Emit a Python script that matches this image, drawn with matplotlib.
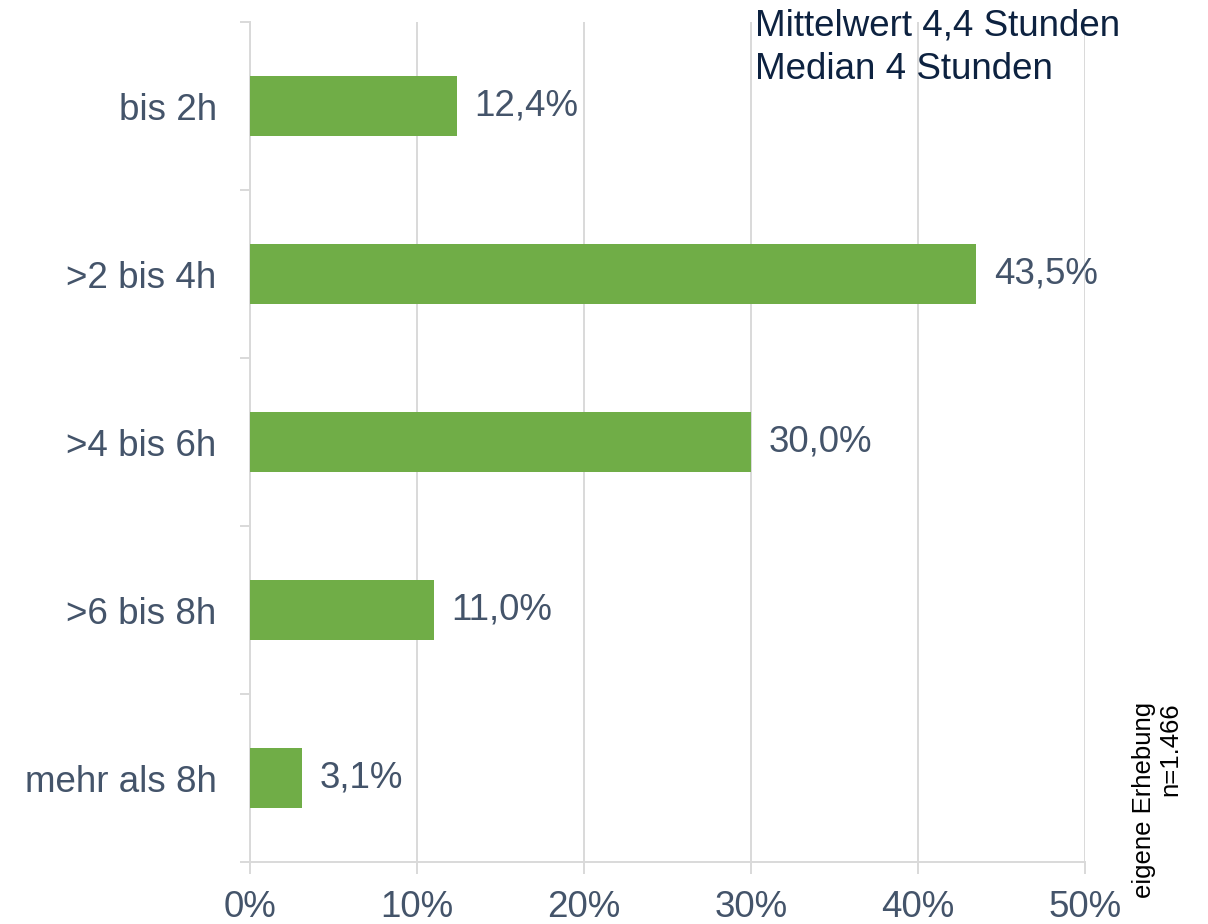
import matplotlib
matplotlib.use("Agg")
import matplotlib.pyplot as plt
from matplotlib.ticker import FixedLocator
import numpy as np

categories = ["bis 2h", ">2 bis 4h", ">4 bis 6h", ">6 bis 8h", "mehr als 8h"]
values = [12.4, 43.5, 30.0, 11.0, 3.1]
value_labels = ["12,4%", "43,5%", "30,0%", "11,0%", "3,1%"]
x_ticks = [0, 10, 20, 30, 40, 50]
x_ticklabels = ["0%", "10%", "20%", "30%", "40%", "50%"]
annotation = "Mittelwert 4,4 Stunden\nMedian 4 Stunden"
source = "eigene Erhebung\nn=1.466"

plt.rcParams['font.family'] = ['Liberation Sans', 'DejaVu Sans']

BAR = "#70AD47"
LABEL = "#44546A"
GRID = "#D9D9D9"
NAVY = "#0D2240"

fig = plt.figure(figsize=(12.08, 9.24), dpi=100)
ax = fig.add_axes([250/1208, 1-862/924, 835/1208, 840/924])

y = np.arange(len(categories))
ax.barh(y, values, height=0.355, color=BAR, zorder=3)
for yi, v, lab in zip(y, values, value_labels):
    ax.text(v + 1.05, yi, lab, va='center', ha='left', fontsize=26.5, color=LABEL)

ax.set_xlim(0, 50)
ax.set_ylim(len(categories) - 0.5, -0.5)
ax.set_xticks(x_ticks)
ax.set_xticklabels(x_ticklabels, fontsize=26.5, color=LABEL)
ax.set_yticks(y)
ax.set_yticklabels(categories, fontsize=26.5, color=LABEL)
ax.yaxis.set_minor_locator(FixedLocator(np.arange(-0.5, len(categories), 1.0)))

ax.tick_params(axis='y', which='major', length=0, pad=24)
ax.tick_params(axis='y', which='minor', length=7.5, width=1.4, color=GRID)
ax.tick_params(axis='x', which='major', length=8.5, width=1.4, color=GRID, pad=12)

ax.grid(axis='x', color=GRID, linewidth=1.4, zorder=0)
for s in ['top', 'right']:
    ax.spines[s].set_visible(False)
for s in ['left', 'bottom']:
    ax.spines[s].set_color(GRID)
    ax.spines[s].set_linewidth(1.4)

fig.text(755/1208, 1-8/924, annotation, ha='left', va='top', fontsize=26.5,
         color=NAVY, linespacing=1.35)
fig.text(1157/1208, 1-898/924, source, rotation=90, ha='center', va='bottom',
         fontsize=18.5, color='black', multialignment='right', linespacing=1.1)

fig.savefig("out.png", dpi=100)
